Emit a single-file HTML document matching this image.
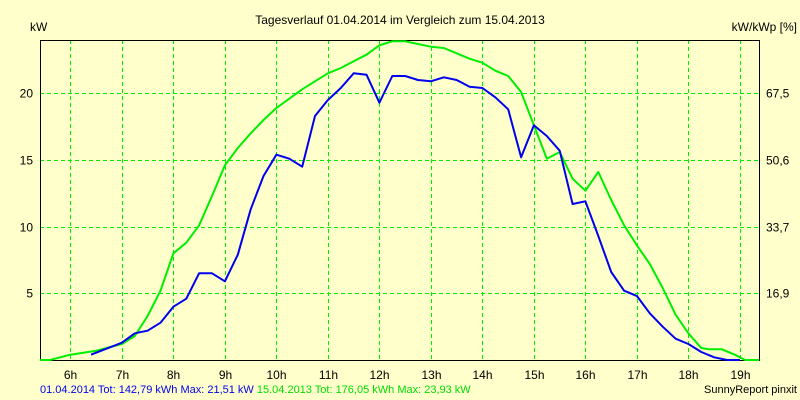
<!DOCTYPE html>
<html><head><meta charset="utf-8"><style>
body{margin:0;background:#ffffcc;}
svg{display:block;font-family:"Liberation Sans",sans-serif;}
</style></head><body>
<svg id="c" width="800" height="400" viewBox="0 0 800 400">
<rect width="800" height="400" fill="#ffffcc"/>
<text x="400" y="24" font-size="12" text-anchor="middle">Tagesverlauf 01.04.2014 im Vergleich zum 15.04.2013</text>
<text x="30" y="31" font-size="12">kW</text>
<text x="797" y="31" font-size="12" text-anchor="end">kW/kWp [%]</text>
<g id="grid"></g><g id="series"></g>
<text x="40" y="393" font-size="11"><tspan fill="#0000ee">01.04.2014 Tot: 142,79 kWh Max: 21,51 kW</tspan><tspan fill="#00dd00"> 15.04.2013 Tot: 176,05 kWh Max: 23,93 kW</tspan></text>
<text x="797" y="393" font-size="11" text-anchor="end">SunnyReport pinxit</text>
</svg>
<script>
const hourTicks=[6,7,8,9,10,11,12,13,14,15,16,17,18,19];
const yTicks=[5,10,15,20];
const y2Labels=["16,9","33,7","50,6","67,5"];
const blueT=[6.4,7,7.25,7.5,7.75,8,8.25,8.5,8.75,9,9.25,9.5,9.75,10,10.25,10.5,10.75,11,11.25,11.5,11.75,12,12.25,12.5,12.75,13,13.25,13.5,13.75,14,14.25,14.5,14.75,15,15.25,15.5,15.75,16,16.25,16.5,16.75,17,17.25,17.5,17.75,18,18.25,18.5,18.75,19];
const blueV=[0.4,1.3,2,2.2,2.8,4,4.6,6.5,6.5,5.9,7.9,11.3,13.8,15.4,15.1,14.5,18.3,19.5,20.4,21.5,21.4,19.3,21.3,21.3,21.0,20.9,21.2,21.0,20.5,20.4,19.7,18.8,15.2,17.6,16.8,15.7,11.7,11.9,9.3,6.6,5.2,4.8,3.5,2.5,1.6,1.2,0.6,0.2,0,0];
const greenT=[5.41,5.6,6,6.5,7,7.25,7.5,7.75,8,8.25,8.5,8.75,9,9.25,9.5,9.75,10,10.25,10.5,10.75,11,11.25,11.5,11.75,12,12.25,12.5,12.75,13,13.25,13.5,13.75,14,14.25,14.5,14.75,15,15.25,15.5,15.75,16,16.25,16.5,16.75,17,17.25,17.5,17.75,18,18.25,18.4,18.65,18.9,19.1,19.37];
const greenV=[0,0,0.4,0.7,1.2,1.8,3.3,5.2,8.0,8.8,10.1,12.3,14.6,15.9,17.0,18.0,18.9,19.6,20.3,20.9,21.5,21.9,22.4,22.9,23.6,23.9,23.9,23.7,23.5,23.4,23.0,22.6,22.3,21.7,21.3,20.1,17.6,15.1,15.6,13.6,12.7,14.1,12.0,10.1,8.6,7.2,5.4,3.4,2.0,0.9,0.8,0.8,0.4,0,0];
const L=40,R=759,T=40,B=360,X0=5.41,X1=19.37,YMAX=24;
const xs=h=>L+(h-X0)/(X1-X0)*(R-L);
const ys=v=>B-v/YMAX*(B-T);
const NS="http://www.w3.org/2000/svg";
const grid=document.getElementById('grid'),ser=document.getElementById('series');
function mk(tag,attrs,parent){const e=document.createElementNS(NS,tag);for(const k in attrs)e.setAttribute(k,attrs[k]);parent.appendChild(e);return e;}
hourTicks.forEach(h=>{const x=Math.round(xs(h))+0.5;
const l=mk('line',{x1:x,x2:x,y1:T,y2:B,stroke:'#00ee00','stroke-dasharray':'4,3'},grid);


const t=mk('text',{x:x,y:379,'font-size':12,'text-anchor':'middle'},grid);t.textContent=h+'h';

});
yTicks.forEach((v,i)=>{const y=Math.round(ys(v))+0.5;
const l=mk('line',{x1:L,x2:R,y1:y,y2:y,stroke:'#00ee00','stroke-dasharray':'4,3'},grid);


const t=mk('text',{x:33,y:y+4,'font-size':12,'text-anchor':'end'},grid);t.textContent=v;


const t2=mk('text',{x:766,y:y+4,'font-size':12},grid);t2.textContent=y2Labels[i];

});
const fr=mk('path',{d:`M${L+0.5},${T+0.5}H${R+0.5}V${B+0.5}H${L+0.5}Z`,fill:'none',stroke:'#000'},grid);


function line(t,v,c,name){const p=mk('polyline',{points:t.map((h,i)=>xs(h).toFixed(1)+','+ys(v[i]).toFixed(1)).join(' '),fill:'none',stroke:c,'stroke-width':2,'stroke-linejoin':'round'},ser);

}
line(greenT,greenV,'#00ee00','series-2013');
line(blueT,blueV,'#0000ee','series-2014');
</script>
</body></html>
